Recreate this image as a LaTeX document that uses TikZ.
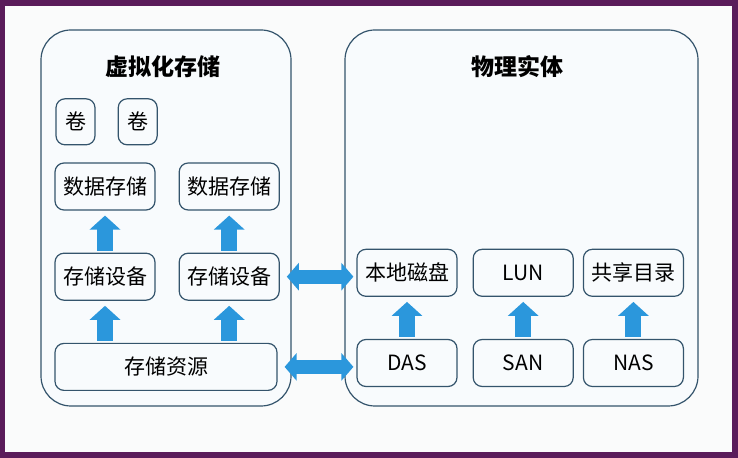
\documentclass[tikz,border=0pt]{standalone}
\usepackage{fontspec}
\setmainfont{Noto Sans CJK SC}
\usetikzlibrary{positioning}
\usetikzlibrary{arrows.meta}
\usepackage{xcolor}

\definecolor{boxline}{HTML}{34546C}
\definecolor{boxfill}{HTML}{F8FBFD}
\definecolor{arrowblue}{HTML}{2B97DC}
\definecolor{framepurple}{HTML}{5A1C5A}
\definecolor{paper}{HTML}{FAFBFB}

\tikzset{
  panel/.style={draw=boxline, line width=0.6pt, rounded corners=15pt, fill=boxfill},
  item/.style={draw=boxline, line width=0.6pt, rounded corners=4.5pt, fill=boxfill,
    minimum width=50pt, minimum height=23.5pt, inner sep=1pt,
    font=\fontsize{10.5}{12}\selectfont},
  small/.style={item, minimum width=19.5pt, minimum height=23pt},
  title/.style={font=\fontsize{11.5}{13}\selectfont\bfseries},
  uparrow/.style={draw=arrowblue, line width=8pt,
    -{Triangle[length=7pt,width=15pt]}, shorten >=2.5pt, shorten <=1pt},
  linkarrow/.style={draw=arrowblue, line width=7pt,
    {Triangle[length=6pt,width=13.5pt]}-{Triangle[length=6pt,width=13.5pt]},
    shorten >=1.5pt, shorten <=3.5pt}
}

\begin{document}
\begin{tikzpicture}[x=0.5pt, y=-0.5pt]

    % Page and frame
    \fill[framepurple] (0,0) rectangle (738,458);
    \fill[paper] (5,6) rectangle (732,452);

    % Define panels
    \node[panel, minimum width=125pt, minimum height=188pt] (virt) at (166,218) {};
    \node[panel, minimum width=176.5pt, minimum height=188pt] (phys) at (521.5,218) {};
    \node[title] (virttitle) at (163,67) {虚拟化存储};
    \node[title] (phystitle) at (517,67) {物理实体};

    % Define nodes (virtual side)
    \node[item] (data1) at (105,186.5) {数据存储};
    \node[item, right=11.5pt of data1] (data2) {数据存储};
    \node[small, above=8.5pt of data1.north west, anchor=south west, xshift=0.5pt] (vol1) {卷};
    \node[small, right=11pt of vol1] (vol2) {卷};
    \node[item, below=21pt of data1] (dev1) {存储设备};
    \node[item, below=21pt of data2] (dev2) {存储设备};
    \node[item, minimum width=111pt, below=21pt of dev1.south west, anchor=north west] (res) {存储资源};

    % Define nodes (physical side)
    \node[item] (das) at (407,363) {DAS};
    \node[item, right=7.5pt of das] (san) {SAN};
    \node[item, right=4.5pt of san] (nas) {NAS};
    \node[item, above=21pt of das] (disk) {本地磁盘};
    \node[item, above=21pt of san] (lun) {LUN};
    \node[item, above=21pt of nas] (share) {共享目录};

    % Connect the nodes
    \draw[uparrow] (dev1) -- (data1);
    \draw[uparrow] (dev2) -- (data2);
    \draw[uparrow] (res.north -| dev1) -- (dev1);
    \draw[uparrow] (res.north -| dev2) -- (dev2);
    \draw[uparrow] (das) -- (disk);
    \draw[uparrow] (san) -- (lun);
    \draw[uparrow] (nas) -- (share);
    \draw[linkarrow] (dev2.east) -- (dev2.east -| disk.west);
    \draw[linkarrow] (res.east) -- (res.east -| das.west);

\end{tikzpicture}
\end{document}
